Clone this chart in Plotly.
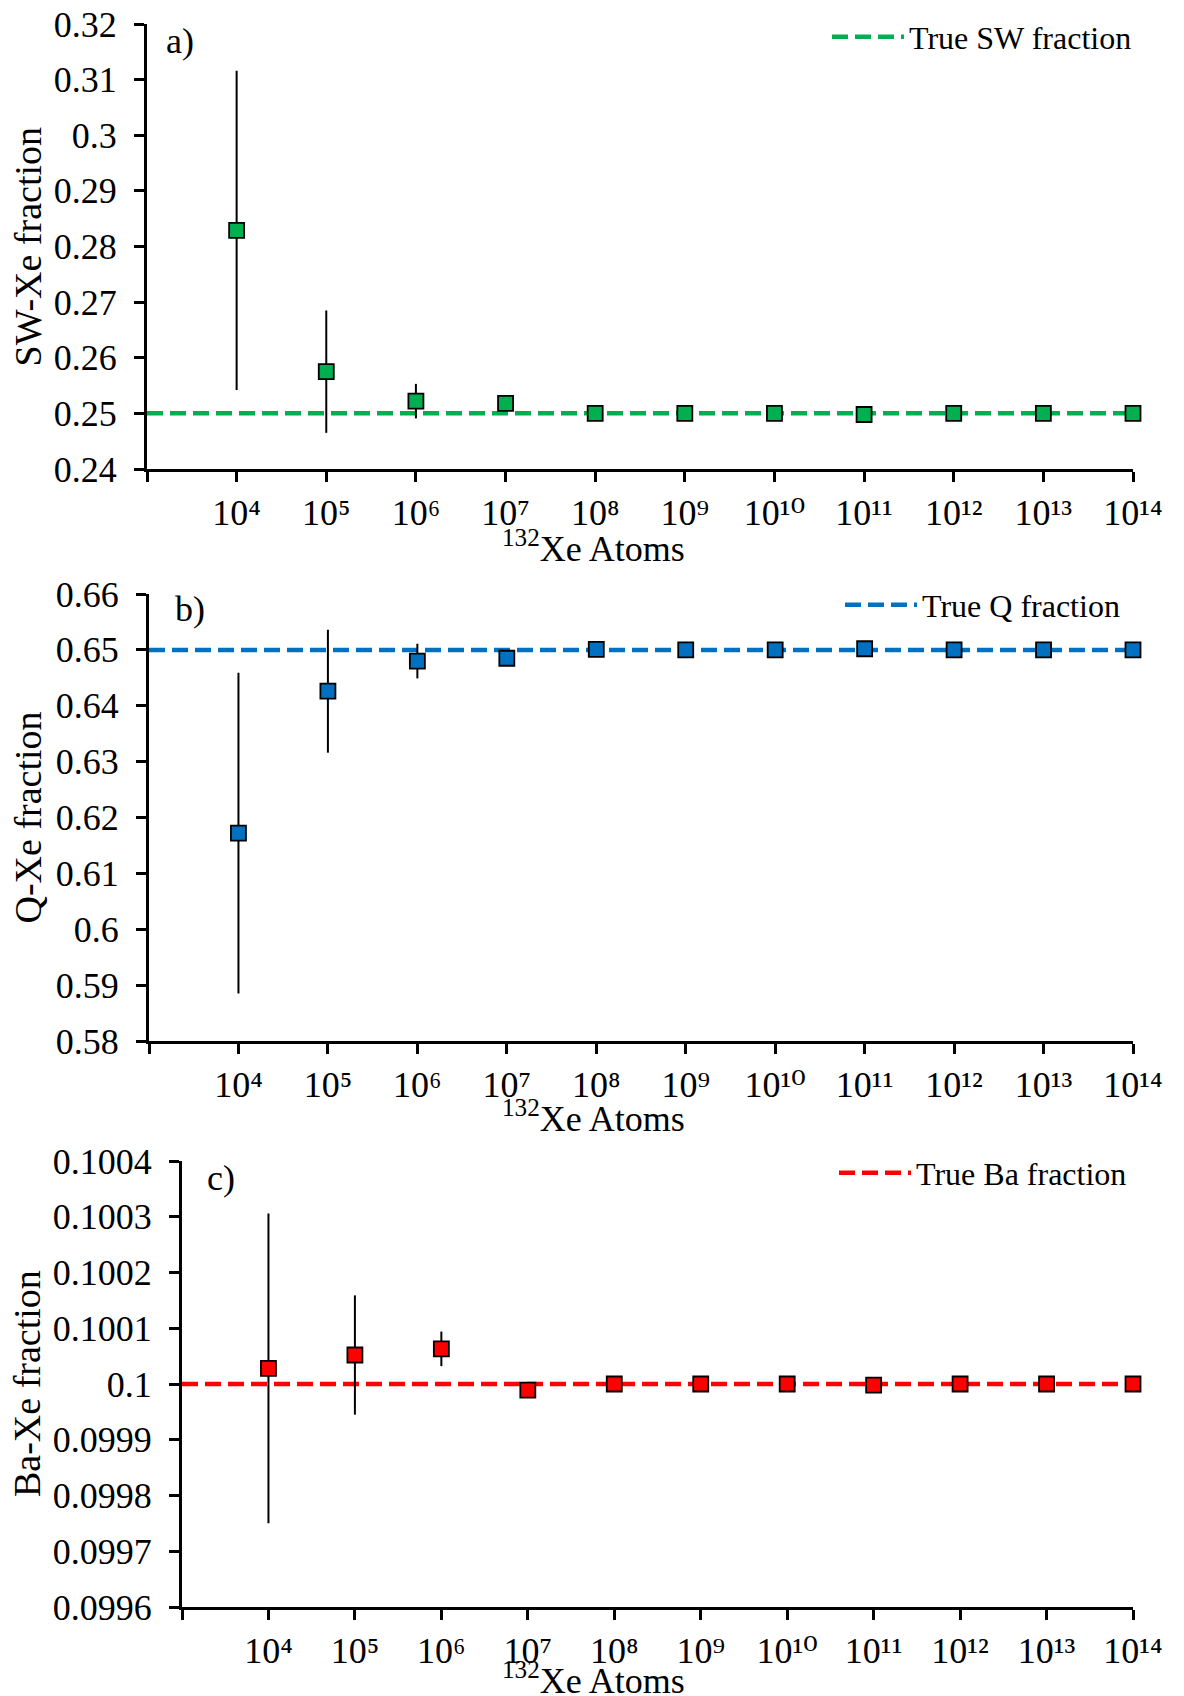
import plotly.graph_objects as go

# ---------------- data ----------------
atoms = [1e4, 1e5, 1e6, 1e7, 1e8, 1e9, 1e10, 1e11, 1e12, 1e13, 1e14]
line_x = [1e3, 1e14]

sw_vals = [0.2829, 0.2575, 0.2522, 0.2518, 0.2500, 0.2500, 0.2500, 0.2498, 0.2500, 0.2500, 0.2500]
sw_err = [0.0287, 0.0110, 0.0031, 0.0008, 0.0003, 0.0001, 0.0001, 0.0, 0.0, 0.0, 0.0]
sw_true = 0.25

q_vals = [0.6172, 0.6426, 0.6480, 0.6485, 0.6501, 0.6500, 0.6500, 0.6502, 0.6500, 0.6500, 0.6500]
q_err = [0.0287, 0.0110, 0.0031, 0.0008, 0.0003, 0.0001, 0.0001, 0.0, 0.0, 0.0, 0.0]
q_true = 0.65

ba_vals = [0.100028, 0.100052, 0.100063, 0.099989, 0.100000, 0.100000, 0.100000, 0.099998, 0.100000, 0.100000, 0.100000]
ba_err = [0.000278, 0.000107, 0.000031, 0.000008, 0.000002, 0.0, 0.0, 0.0, 0.0, 0.0, 0.0]
ba_true = 0.1

x_tickvals = [1e3, 1e4, 1e5, 1e6, 1e7, 1e8, 1e9, 1e10, 1e11, 1e12, 1e13, 1e14]
x_ticktext = ["", "10⁴", "10⁵", "10⁶", "10⁷", "10⁸", "10⁹",
              "10¹⁰", "10¹¹", "10¹²", "10¹³", "10¹⁴"]

sw_ticks = [0.24, 0.25, 0.26, 0.27, 0.28, 0.29, 0.30, 0.31, 0.32]
sw_ticktext = ["0.24", "0.25", "0.26", "0.27", "0.28", "0.29", "0.3", "0.31", "0.32"]
q_ticks = [0.58, 0.59, 0.60, 0.61, 0.62, 0.63, 0.64, 0.65, 0.66]
q_ticktext = ["0.58", "0.59", "0.6", "0.61", "0.62", "0.63", "0.64", "0.65", "0.66"]
ba_ticks = [0.0996, 0.0997, 0.0998, 0.0999, 0.1, 0.1001, 0.1002, 0.1003, 0.1004]
ba_ticktext = ["0.0996", "0.0997", "0.0998", "0.0999", "0.1", "0.1001", "0.1002", "0.1003", "0.1004"]

GREEN = "#00B050"
BLUE = "#0070C0"
RED = "#FF0000"
FONT = "Liberation Serif, Times New Roman, serif"
XTICK_FONT = "Liberation Serif, DejaVu Serif, serif"
W, H = 1184, 1696

panels = [
    dict(vals=sw_vals, err=sw_err, true=sw_true, color=GREEN, name="True SW fraction",
         ticks=sw_ticks, ticktext=sw_ticktext, rng=[0.24, 0.32],
         xdom=[147 / W, 1133 / W], ydom=[1 - 469 / H, 1 - 24 / H],
         ytitle="SW-Xe fraction", label="a)", label_xy=(164, 41),
         xtitle_y=546, leg_xy=(827, 37)),
    dict(vals=q_vals, err=q_err, true=q_true, color=BLUE, name="True Q fraction",
         ticks=q_ticks, ticktext=q_ticktext, rng=[0.58, 0.66],
         xdom=[149 / W, 1133 / W], ydom=[1 - 1041 / H, 1 - 594 / H],
         ytitle="Q-Xe fraction", label="b)", label_xy=(173, 609),
         xtitle_y=1116, leg_xy=(840, 605)),
    dict(vals=ba_vals, err=ba_err, true=ba_true, color=RED, name="True Ba fraction",
         ticks=ba_ticks, ticktext=ba_ticktext, rng=[0.0996, 0.1004],
         xdom=[182 / W, 1133 / W], ydom=[1 - 1607 / H, 1 - 1161 / H],
         ytitle="Ba-Xe fraction", label="c)", label_xy=(205, 1178),
         xtitle_y=1678, leg_xy=(834, 1173)),
]

fig = go.Figure()
annotations = []
legend_names = ["legend", "legend2", "legend3"]

for i, p in enumerate(panels):
    sx = "" if i == 0 else str(i + 1)
    xref, yref = "x" + sx, "y" + sx
    # true value dashed line
    fig.add_trace(go.Scatter(
        x=line_x, y=[p["true"], p["true"]], mode="lines", name=p["name"],
        line=dict(color=p["color"], width=4.5, dash="16px,7px"),
        xaxis=xref, yaxis=yref, legend=legend_names[i], showlegend=True,
        cliponaxis=False, hoverinfo="skip"))
    # data markers
    fig.add_trace(go.Scatter(
        x=atoms, y=p["vals"], mode="markers", showlegend=False,
        marker=dict(symbol="square", size=15, color=p["color"],
                    line=dict(color="black", width=1.8)),
        error_y=dict(type="data", array=p["err"], visible=True,
                     color="black", thickness=2, width=0),
        xaxis=xref, yaxis=yref, cliponaxis=False))

    axis_common = dict(showline=True, linecolor="black", linewidth=3,
                       ticks="outside", ticklen=10, tickwidth=3, tickcolor="black",
                       showgrid=False, zeroline=False, automargin=False)
    fig.update_layout(**{
        "xaxis" + sx: dict(type="log", range=[3, 14], domain=p["xdom"],
                           anchor=yref, tickvals=x_tickvals, ticktext=x_ticktext,
                           ticklabelstandoff=0,
                           tickfont=dict(family=XTICK_FONT, size=36, color="black"),
                           **axis_common),
        "yaxis" + sx: dict(range=p["rng"], domain=p["ydom"], anchor=xref,
                           tickvals=p["ticks"], ticktext=p["ticktext"],
                           ticklabelstandoff=10,
                           tickfont=dict(family=FONT, size=36, color="black"),
                           **axis_common),
    })
    lx, ly = p["leg_xy"]
    fig.update_layout(**{
        legend_names[i]: dict(x=lx / W, y=1 - ly / H, xanchor="left", yanchor="middle",
                              bgcolor="rgba(0,0,0,0)", itemwidth=72,
                              font=dict(family=FONT, size=32, color="black"))
    })
    # y-axis title
    y0, y1 = p["ydom"]
    annotations.append(dict(text=p["ytitle"], x=27 / W, y=(y0 + y1) / 2,
                            xref="paper", yref="paper", showarrow=False,
                            textangle=-90, xanchor="center", yanchor="middle",
                            font=dict(family=FONT, size=38, color="black")))
    # x-axis title
    annotations.append(dict(text="<sup>132</sup>Xe Atoms", x=593 / W, y=1 - p["xtitle_y"] / H,
                            xref="paper", yref="paper", showarrow=False,
                            xanchor="center", yanchor="middle",
                            font=dict(family=FONT, size=36, color="black")))
    # panel label
    px, py = p["label_xy"]
    annotations.append(dict(text=p["label"], x=px / W, y=1 - py / H,
                            xref="paper", yref="paper", showarrow=False,
                            xanchor="left", yanchor="middle",
                            font=dict(family=FONT, size=36, color="black")))

fig.update_layout(width=W, height=H, margin=dict(l=0, r=0, t=0, b=0),
                  paper_bgcolor="white", plot_bgcolor="white",
                  annotations=annotations, showlegend=True)

fig.write_html("out.html")
